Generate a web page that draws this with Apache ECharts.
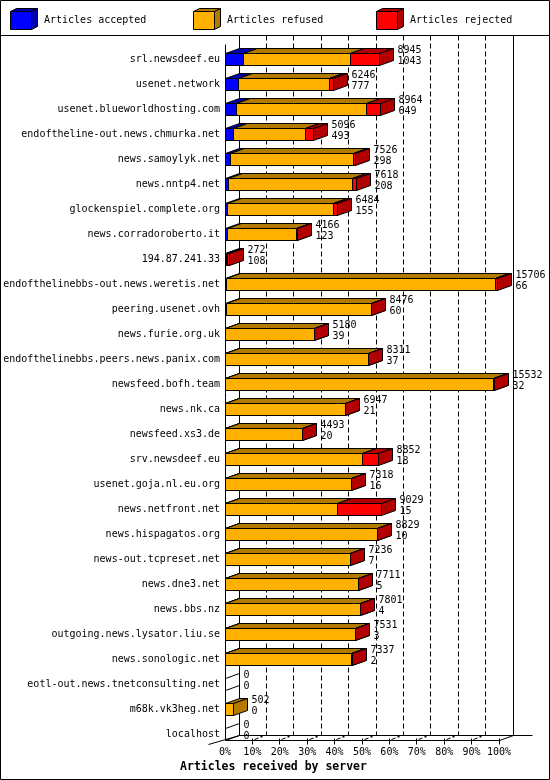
<!DOCTYPE html>
<html><head><meta charset="utf-8">
<script src="https://cdn.jsdelivr.net/npm/echarts@6/dist/echarts.min.js"></script>
<style>html,body{margin:0;padding:0;background:#fff}#c{width:550px;height:780px}</style>
</head><body><div id="c"></div>
<script>
const categories = ['srl.newsdeef.eu','usenet.network','usenet.blueworldhosting.com','endoftheline-out.news.chmurka.net','news.samoylyk.net','news.nntp4.net','glockenspiel.complete.org','news.corradoroberto.it','194.87.241.33','endofthelinebbs-out.news.weretis.net','peering.usenet.ovh','news.furie.org.uk','endofthelinebbs.peers.news.panix.com','newsfeed.bofh.team','news.nk.ca','newsfeed.xs3.de','srv.newsdeef.eu','usenet.goja.nl.eu.org','news.netfront.net','news.hispagatos.org','news-out.tcpreset.net','news.dne3.net','news.bbs.nz','outgoing.news.lysator.liu.se','news.sonologic.net','eotl-out.news.tnetconsulting.net','m68k.vk3heg.net','localhost'];
const totals   = [8945,6246,8964,5096,7526,7618,6484,4166,272,15706,8476,5180,8311,15532,6947,4493,8852,7318,9029,8829,7236,7711,7801,7531,7337,0,502,0];
const accepted = [1043,777,649,493,298,208,155,123,108,66,60,39,37,32,21,20,18,16,15,10,7,5,4,3,2,0,0,0];
const refused  = [6212,5274,7515,4183,7098,7160,6099,4003,40,15560,8376,5131,8269,15490,6921,4468,7949,7297,6454,8769,7224,7701,7792,7523,7330,0,502,0];
const rejected = [1690,195,800,420,130,250,230,40,124,80,40,10,5,10,5,5,885,5,2560,50,5,5,5,5,5,0,0,0];
const seriesNames = ['Articles accepted','Articles refused','Articles rejected'];
const tickLabels = ['0%','10%','20%','30%','40%','50%','60%','70%','80%','90%','100%'];
const axisTitle = 'Articles received by server';
const AXIS_MAX = 15820;
const AXIS_STEP = 1582;

const frontColors = ['#0000ff','#ffb000','#ff0000'];
const shadeColors = ['#0000b2','#b27b00','#b20000'];
const DX = 14, DY = -5, HALF = 6;
const FONT10 = '10px "DejaVu Sans Mono", monospace';

function snap(v){ return Math.round(v - 0.5) + 0.5; }
function box(x0, x1, top, bot, fc, sc){
  x0 = snap(x0); x1 = snap(x1); top = snap(top); bot = snap(bot);
  const st = {stroke:'#000', lineWidth:1};
  return [
    {type:'polygon', shape:{points:[[x0,top],[x1,top],[x1+DX,top+DY],[x0+DX,top+DY]]}, style:Object.assign({fill:sc}, st)},
    {type:'polygon', shape:{points:[[x1,top],[x1+DX,top+DY],[x1+DX,bot+DY],[x1,bot]]}, style:Object.assign({fill:sc}, st)},
    {type:'rect', shape:{x:x0, y:top, width:x1-x0, height:bot-top}, style:Object.assign({fill:fc}, st)}
  ];
}
function line(x1,y1,x2,y2,dash,w){
  return {type:'line', shape:{x1,y1,x2,y2}, style:{stroke:'#000', lineWidth:w||1, lineDash:dash||null}};
}

function renderFrame(params, api){
  const n = categories.length;
  const sl = snap(api.coord([0,0])[0]);
  const sr = snap(api.coord([AXIS_MAX,0])[0]);
  const yFirst = api.coord([0,0])[1];
  const yLast = api.coord([0,n-1])[1];
  const floorF = snap(yLast + HALF);
  const floorB = floorF + DY;
  const topY = 35.5;
  const els = [];
  els.push(line(sl+DX, topY, sl+DX, floorB));
  els.push(line(sr+DX, topY, sr+DX, floorB));
  for (let k = 1; k < tickLabels.length - 1; k++){
    const x = snap(api.coord([k*AXIS_STEP,0])[0]) + DX;
    els.push(line(x, topY, x, floorB, [5,3]));
  }
  els.push(line(sl, floorF, sr, floorF));
  els.push(line(sr, floorF, sr+DX, floorB));
  els.push(line(sl+DX, floorB, sr+DX+19, floorB));
  els.push(line(sl-17, floorF+4, sl+DX, floorB));
  els.push(line(sl, snap(yFirst-15), sl, floorF));
  for (let k = 1; k < tickLabels.length; k++){
    const x = snap(api.coord([k*AXIS_STEP,0])[0]);
    els.push(line(x, floorF-2, x, floorF+4));
    if (k < tickLabels.length - 1) {
      els.push(line(x+2, floorF-1, x+6, floorF-2.5));
      els.push({type:'rect', shape:{x:x+8, y:floorF-5, width:2, height:2}, style:{fill:'#000'}});
    }
  }
  return {type:'group', children:els};
}

function renderBars(params, api){
  const i = params.dataIndex;
  const cy = api.coord([0,i])[1];
  const top = cy - HALF, bot = cy + HALF;
  const vals = [accepted[i], refused[i], rejected[i]];
  let start = 0;
  const children = [];
  vals.forEach((v, s) => {
    if (v <= 0) return;
    const x0 = api.coord([start, i])[0];
    const x1 = api.coord([start + v, i])[0];
    children.push(...box(x0, x1, top, bot, frontColors[s], shadeColors[s]));
    start += v;
  });
  if (start === 0) {
    const x0 = snap(api.coord([0, i])[0]);
    children.push(line(x0, snap(top), x0+DX, snap(top)+DY));
    children.push(line(x0, snap(bot), x0+DX, snap(bot)+DY));
  }
  const xe = snap(api.coord([start, i])[0]) + DX + 4;
  children.push({type:'text', x:xe, y:cy-3.5, style:{text:totals[i] + '\n' + accepted[i], fill:'#000', font:FONT10, align:'left', verticalAlign:'middle', lineHeight:11}});
  return {type:'group', children};
}

const legendX = [10, 193, 376];
const graphics = [
  {type:'rect', shape:{x:0.5, y:0.5, width:549, height:779}, style:{fill:null, stroke:'#000', lineWidth:1}},
  {type:'line', shape:{x1:0, y1:35.5, x2:550, y2:35.5}, style:{stroke:'#000', lineWidth:1}},
  {type:'text', x:273.5, y:767, style:{text:axisTitle, fill:'#000', font:'bold 11.5px "DejaVu Sans Mono", monospace', align:'center', verticalAlign:'middle'}}
];
seriesNames.forEach((name, s) => {
  const x = legendX[s] + 0.5;
  const st = {stroke:'#000', lineWidth:1};
  graphics.push({type:'polygon', shape:{points:[[x,11.5],[x+21,11.5],[x+27,8.5],[x+6,8.5]]}, style:Object.assign({fill:shadeColors[s]}, st)});
  graphics.push({type:'polygon', shape:{points:[[x+21,11.5],[x+27,8.5],[x+27,26.5],[x+21,29.5]]}, style:Object.assign({fill:shadeColors[s]}, st)});
  graphics.push({type:'rect', shape:{x:x, y:11.5, width:21, height:18}, style:Object.assign({fill:frontColors[s]}, st)});
  graphics.push({type:'text', x:legendX[s]+34, y:20.5, style:{text:name, fill:'#000', font:FONT10, align:'left', verticalAlign:'middle'}});
});

const chart = echarts.init(document.getElementById('c'));
chart.setOption({
  animation:false,
  textStyle:{fontFamily:'"DejaVu Sans Mono", monospace'},
  grid:{left:225, width:274, top:46.5, height:700, containLabel:false},
  xAxis:{type:'value', min:0, max:AXIS_MAX, interval:AXIS_STEP,
    axisLine:{show:false}, axisTick:{show:false}, splitLine:{show:false},
    axisLabel:{margin:1, fontSize:10, color:'#000', fontFamily:'"DejaVu Sans Mono", monospace',
      showMaxLabel:true, showMinLabel:true,
      formatter:(v) => tickLabels[Math.round(v / AXIS_STEP)] || ''}},
  yAxis:{type:'category', data:categories, inverse:true,
    axisLine:{show:false}, axisTick:{show:false}, splitLine:{show:false},
    axisLabel:{margin:5, fontSize:10, color:'#000', fontFamily:'"DejaVu Sans Mono", monospace', interval:0}},
  graphic:graphics,
  series:[
    {type:'custom', name:'frame', z:1, silent:true, clip:false, renderItem:renderFrame, data:[[0,0]], encode:{x:0, y:1}},
    {type:'custom', name:'bars', z:2, silent:true, clip:false, renderItem:renderBars,
      data:categories.map((c,i) => [totals[i], i]), encode:{x:0, y:1}}
  ]
});
</script></body></html>
